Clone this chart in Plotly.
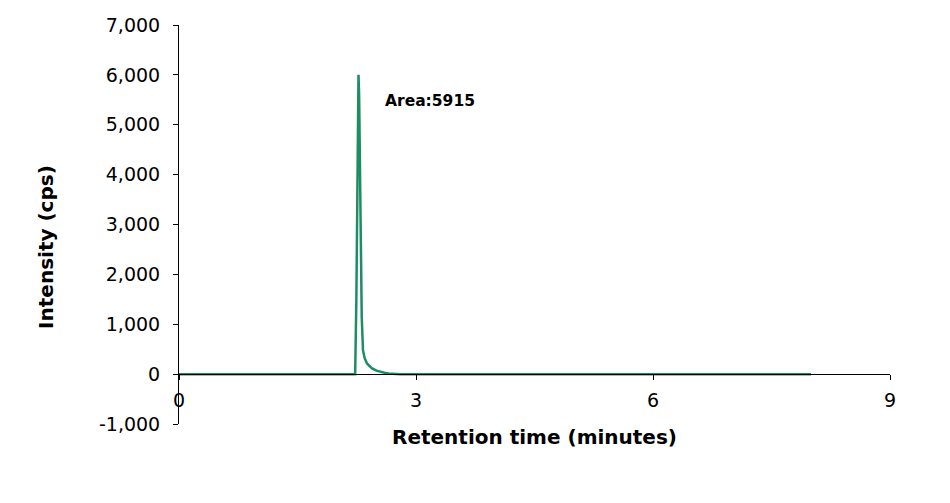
import plotly.graph_objects as go

# retention time (minutes) and intensity (cps)
time_min = [0.0, 1.0, 2.0, 2.23, 2.245, 2.26, 2.272, 2.28, 2.29, 2.30,
            2.313, 2.329, 2.35, 2.38, 2.41, 2.443, 2.50, 2.548, 2.60,
            2.655, 2.72, 2.80, 3.0, 4.0, 6.0, 8.0]
intensity = [0, 0, 0, 0, 1500, 3800, 6000, 5600, 4000, 2480,
             1150, 480, 320, 213, 155, 113, 70, 47, 28,
             13, 6, 0, 0, 0, 0, 0]

peak_label = "Area:5915"
peak_label_x = 2.58
peak_label_y = 5480

x_ticks = [0, 3, 6, 9]
y_ticks = [-1000, 0, 1000, 2000, 3000, 4000, 5000, 6000, 7000]
y_tick_text = ["-1,000", "0", "1,000", "2,000", "3,000", "4,000",
               "5,000", "6,000", "7,000"]

font = "DejaVu Sans"

fig = go.Figure()
fig.add_trace(go.Scatter(
    x=time_min, y=intensity, mode="lines",
    line=dict(color="#1E8C64", width=2.5),
    hoverinfo="skip", showlegend=False,
))

fig.add_annotation(
    x=peak_label_x, y=peak_label_y, text="<b>" + peak_label + "</b>",
    showarrow=False, xanchor="left", yanchor="middle",
    font=dict(family=font, size=15.5, color="black"),
)

# y title sits a bit below the plot centre in the original
fig.add_annotation(
    xref="paper", yref="paper", x=-0.187, y=0.444,
    text="<b>Intensity (cps)</b>", textangle=-90, showarrow=False,
    xanchor="center", yanchor="middle",
    font=dict(family=font, size=20, color="black"),
)

fig.update_layout(
    width=942, height=495,
    margin=dict(l=171, r=60, t=17, b=79),
    paper_bgcolor="white", plot_bgcolor="white",
    font=dict(family=font, size=19, color="black"),
)

fig.update_xaxes(
    range=[0, 9], tickvals=x_ticks,
    anchor="free", position=0.125, automargin=False,
    showline=True, linecolor="black", linewidth=1,
    ticks="outside", ticklen=5, tickcolor="black",
    ticklabelstandoff=4,
    showgrid=False, zeroline=False,
    title=dict(text="<b>Retention time (minutes)</b>", standoff=20,
               font=dict(family=font, size=20)),
)
fig.update_yaxes(
    range=[-1000, 7000], tickvals=y_ticks, ticktext=y_tick_text,
    automargin=False,
    showline=True, linecolor="black", linewidth=1,
    ticks="outside", ticklen=5, tickcolor="black",
    ticklabelstandoff=9,
    showgrid=False, zeroline=False,
)

fig.write_html("out.html")
